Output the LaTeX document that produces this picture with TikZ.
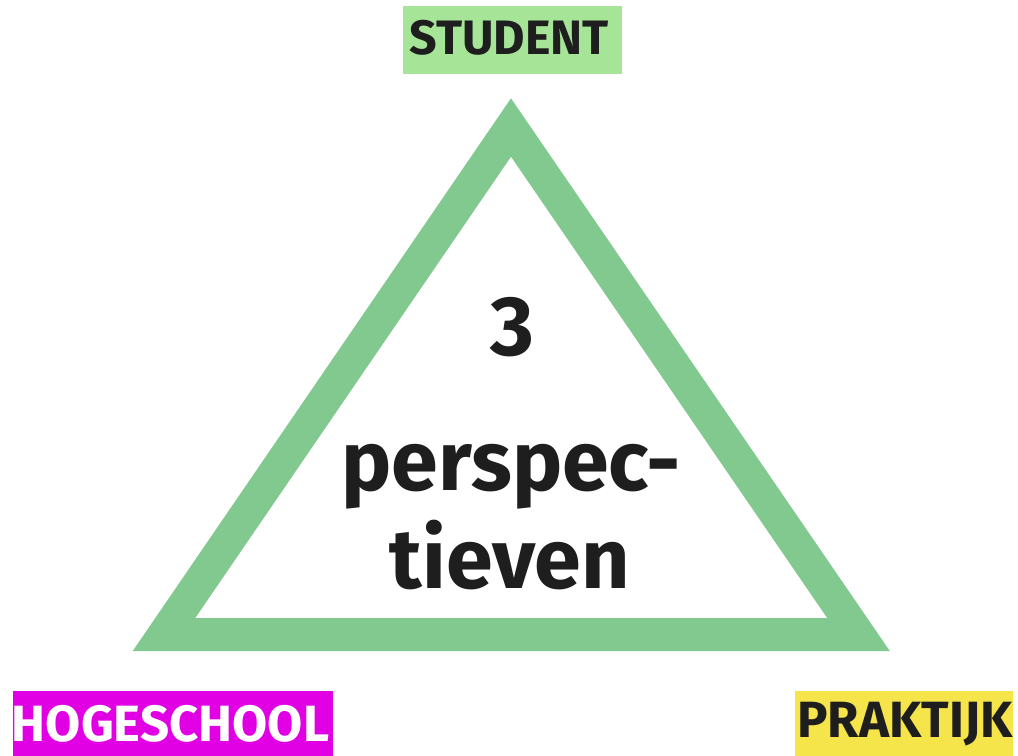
\documentclass[tikz,border=0pt]{standalone}
\usepackage{fontspec}
\setmainfont{Fira Sans}
\usetikzlibrary{positioning}
\definecolor{trigreen}{RGB}{130,201,143}
\definecolor{studgreen}{RGB}{166,228,151}
\definecolor{hsmagenta}{RGB}{225,0,228}
\definecolor{prakyellow}{RGB}{245,229,74}
\definecolor{inkdark}{RGB}{30,30,30}
\tikzset{
  label box/.style = {rectangle, inner sep=0pt, minimum height=1.33cm},
  label text/.style = {inner sep=0pt, font=\bfseries\fontsize{29}{29}\selectfont},
  tri line/.style = {draw=trigreen, line width=0.66cm, line join=miter},
  big text/.style = {anchor=base, text=inkdark, inner sep=0pt,
    font=\bfseries\fontsize{48}{56}\selectfont}
}
\begin{document}
\begin{tikzpicture}[x=0.02cm, y=-0.02cm]
\useasboundingbox (0,0) rectangle (1018,755);

% triangle
\coordinate (top) at (511,127.5);
\coordinate (left) at (164,634.5);
\coordinate (right) at (858.5,634.5);
\draw [tri line] (top) -- (left) -- (right) -- cycle;

% text inside
\node [big text] (num) at (512,355) {3};
\node [big text] (persp) at (511,490) {perspec-};
\node [big text] (tiev) at (510,588) {tieven};

% labels
\node [label box, fill=studgreen, minimum width=4.38cm, minimum height=1.36cm] (student) at (512.5,40) {};
\node [label text, text=inkdark, font=\bfseries\fontsize{27.5}{27.5}\selectfont] (studtxt) at (509,38) {STUDENT};

\node [label box, fill=hsmagenta, minimum width=6.4cm] (hs) at (173,724) {};
\node [label text, text=white] (hstxt) at (170.5,724) {HOGESCHOOL};

\node [label box, fill=prakyellow, minimum width=4.36cm] (prak) at (904,724) {};
\node [label text, text=inkdark] (praktxt) at (905,724) {PRAKTIJK};
\end{tikzpicture}
\end{document}
